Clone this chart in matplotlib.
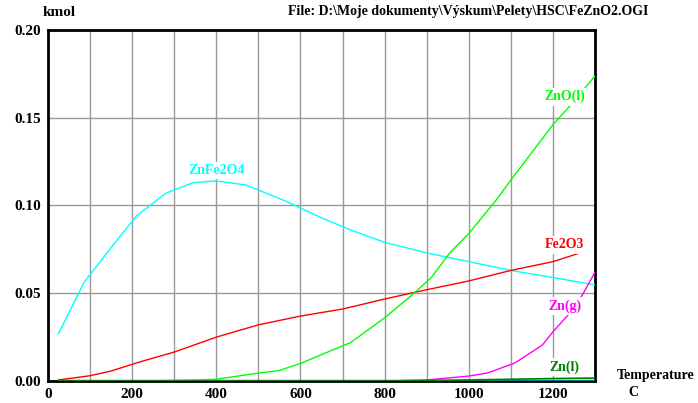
import matplotlib.pyplot as plt
import numpy as np

plt.rcParams['font.family'] = ['Liberation Serif', 'DejaVu Serif']
plt.rcParams['font.weight'] = 'bold'

# ZnFe2O4
t_znfe = [25, 85, 150, 210, 280, 345, 400, 470, 560, 650, 720, 800, 900, 1000, 1100, 1200, 1300]
znfe2o4 = [0.027, 0.056, 0.076, 0.094, 0.107, 0.113, 0.114, 0.1117, 0.103, 0.093, 0.086, 0.079,
           0.073, 0.068, 0.063, 0.059, 0.0547]

# Fe2O3
t_fe = [25, 100, 150, 220, 300, 400, 500, 600, 700, 800, 900, 1000, 1100, 1200, 1265]
fe2o3 = [0.0006, 0.003, 0.0057, 0.011, 0.0165, 0.025, 0.032, 0.037, 0.041, 0.0467, 0.052,
         0.057, 0.063, 0.068, 0.073]

# ZnO(l)
t_zno = [25, 200, 300, 400, 500, 550, 600, 660, 720, 800, 870, 910, 955, 1000, 1065, 1100,
         1200, 1245, 1300]
zno_l = [0.0, 0.0, 0.0003, 0.001, 0.0045, 0.006, 0.010, 0.016, 0.022, 0.036, 0.050, 0.0587,
         0.073, 0.084, 0.103, 0.1145, 0.146, 0.158, 0.1738]

# Zn(g)
t_zng = [25, 800, 900, 1000, 1045, 1110, 1175, 1200, 1240, 1270, 1300]
zn_g = [0.0, 0.0, 0.0006, 0.0028, 0.0046, 0.0103, 0.0205, 0.028, 0.0387, 0.049, 0.062]

# Zn(l)
t_znl = [25, 800, 900, 1000, 1100, 1200, 1300]
zn_l = [0.0, 0.0, 0.0002, 0.0006, 0.001, 0.0014, 0.0017]

# other species near zero
t_rest = [25, 1300]
rest = [0.0, 0.0]

fig = plt.figure(figsize=(6.98, 4.03), dpi=100)
ax = fig.add_axes([0.0688, 0.0546, 0.7836, 0.871])

ax.plot(t_rest, rest, color='#008080', lw=2.5, zorder=3)
ax.plot(t_znfe, znfe2o4, color='#00ffff', lw=1, zorder=4)
ax.plot(t_fe, fe2o3, color='#ff0000', lw=1, zorder=4)
ax.plot(t_zno, zno_l, color='#00ff00', lw=1, zorder=4)
ax.plot(t_zng, zn_g, color='#ff00ff', lw=1, zorder=4)
ax.plot(t_znl, zn_l, color='#008000', lw=1.2, zorder=4)

lbl = dict(fontsize=10, fontweight='bold', ha='center', va='center', zorder=6,
           bbox=dict(facecolor='white', edgecolor='none', pad=1.5))
ax.text(400, 0.120, 'ZnFe2O4', color='#00ffff', **lbl)
ax.text(1228, 0.162, 'ZnO(l)', color='#00ff00', **lbl)
ax.text(1228, 0.0775, 'Fe2O3', color='#ff0000', **lbl)
ax.text(1228, 0.0427, 'Zn(g)', color='#ff00ff', **lbl)
ax.text(1228, 0.008, 'Zn(l)', color='#008000', **lbl)

ax.set_xlim(0, 1300)
ax.set_ylim(0, 0.2)
ax.set_xticks(np.arange(0, 1201, 200))
ax.set_xticks(np.arange(0, 1301, 100), minor=True)
ax.set_yticks(np.arange(0, 0.201, 0.05))
ax.set_yticklabels(['0.00', '0.05', '0.10', '0.15', '0.20'])
ax.grid(True, which='both', color='#999999', lw=1)
ax.tick_params(which='both', length=0, labelsize=11, pad=5)
for lab in ax.get_xticklabels() + ax.get_yticklabels():
    lab.set_fontweight('bold')
for s in ax.spines.values():
    s.set_linewidth(2)
    s.set_color('black')

fig.text(43 / 698, 1 - 12 / 403, 'kmol', fontsize=11, fontweight='bold', va='center')
fig.text(648 / 698, 1 - 12 / 403, 'File: D:\\Moje dokumenty\\Výskum\\Pelety\\HSC\\FeZnO2.OGI',
         fontsize=10, fontweight='bold', va='center', ha='right')
fig.text(617 / 698, 1 - 376 / 403, 'Temperature', fontsize=10, fontweight='bold', va='center')
fig.text(633 / 698, 1 - 393 / 403, 'C', fontsize=10, fontweight='bold', va='center', ha='center')

fig.savefig('out.png', dpi=100)
